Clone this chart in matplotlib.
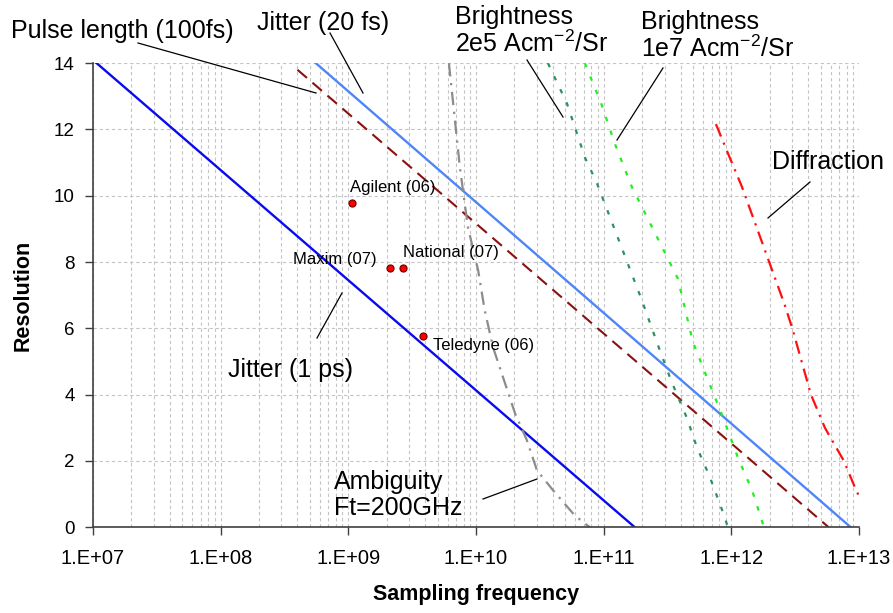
import numpy as np
import matplotlib.pyplot as plt
from matplotlib.ticker import LogLocator, FixedLocator, NullFormatter

plt.rcParams['font.family'] = ['Liberation Sans', 'DejaVu Sans']
plt.rcParams['mathtext.fontset'] = 'custom'
plt.rcParams['mathtext.rm'] = 'Liberation Sans'
plt.rcParams['mathtext.default'] = 'regular'

# --- data ---
jitter_1ps_f = [1.07e7, 1.75e11]
jitter_1ps_bits = [14, 0]

jitter_20fs_f = [5.57e8, 8.6e12]
jitter_20fs_bits = [14, 0]

pulse_f = [4.0e8, 5.77e12]
pulse_bits = [13.8, 0]

ambig_f = [6.14e9, 7.48e9, 8.65e9, 1.04e10, 1.17e10, 1.36e10, 2.02e10,
           2.50e10, 3.00e10, 4.00e10, 5.74e10, 6.87e10, 7.80e10]
ambig_bits = [14, 10.86, 9.05, 7.75, 6.55, 5.43, 3.44, 2.63, 1.72, 1.12,
              0.42, 0.15, 0]

bright_2e5_f = [3.66e10, 5.15e10, 5.95e10, 7.12e10, 8.85e10, 1.99e11,
                2.61e11, 3.36e11, 4.49e11, 5.37e11, 6.79e11, 8.59e11, 9.40e11]
bright_2e5_bits = [14, 12.79, 12.07, 11.16, 10.38, 6.85, 5.58, 4.44, 3.29,
                   2.41, 1.51, 0.45, 0]

bright_1e7_f = [7.12e10, 9.68e10, 1.22e11, 1.66e11, 3.81e11, 5.0e11,
                7.17e11, 8.59e11, 1.13e12, 1.45e12, 1.80e12]
bright_1e7_bits = [14, 12.73, 11.58, 10.27, 7.5, 5.58, 4.07, 3.32, 2.08,
                   1.12, 0]

diffr_f = [7.57e11, 9.40e11, 1.21e12, 2.62e12, 3.0e12, 4.2e12, 5.4e12,
           7.6e12, 9.61e12, 1.0e13]
diffr_bits = [12.16, 11.28, 10.27, 6.70, 6.0, 4.0, 3.0, 2.0, 1.06, 0.95]

adc_names = ['Agilent (06)', 'Maxim (07)', 'National (07)', 'Teledyne (06)']
adc_f = [1.07e9, 2.12e9, 2.68e9, 3.84e9]
adc_bits = [9.78, 7.82, 7.82, 5.76]

x_ticks = [1e7, 1e8, 1e9, 1e10, 1e11, 1e12, 1e13]
x_ticklabels = ['1.E+07', '1.E+08', '1.E+09', '1.E+10', '1.E+11', '1.E+12', '1.E+13']
y_ticks = [0, 2, 4, 6, 8, 10, 12, 14]

fig = plt.figure(figsize=(8.93, 6.13), dpi=100)
ax = fig.add_axes([0.104, 0.140, 0.858, 0.757])

ax.plot(jitter_1ps_f, jitter_1ps_bits, color='#0a0aee', lw=1.7)
ax.plot(jitter_20fs_f, jitter_20fs_bits, color='#4f86f7', lw=1.7)
ax.plot(pulse_f, pulse_bits, color='#8b1010', lw=1.5, dashes=(6, 3.5))
ax.plot(ambig_f, ambig_bits, color='#8c8c8c', lw=1.6, dashes=(6, 3, 1, 3))
ax.plot(bright_2e5_f, bright_2e5_bits, color='#2e9060', lw=1.6, dashes=(2, 4.5))
ax.plot(bright_1e7_f, bright_1e7_bits, color='#22ee22', lw=1.6, dashes=(2, 4.5))
ax.plot(diffr_f, diffr_bits, color='#ff1010', lw=1.6, dashes=(6, 3, 1, 3))

ax.scatter(adc_f, adc_bits, s=26, color='#ff0000', edgecolors='#600000',
           linewidths=0.8, zorder=5)
offsets = [(-1.5, 11, 'left'), (-9.5, 6, 'right'), (0, 11, 'left'), (7, -6.5, 'left')]
for name, f, b, (dx, dy, ha) in zip(adc_names, adc_f, adc_bits, offsets):
    ax.annotate(name, (f, b), xytext=(dx, dy), textcoords='offset points',
                ha=ha, va='center', fontsize=12)

ax.set_xscale('log')
ax.set_xlim(1e7, 1e13)
ax.set_ylim(0, 14)
ax.xaxis.set_major_locator(FixedLocator(x_ticks))
ax.set_xticklabels(x_ticklabels, fontsize=14.5)
ax.xaxis.set_minor_locator(LogLocator(base=10, subs=np.arange(2, 10)))
ax.xaxis.set_minor_formatter(NullFormatter())
ax.set_yticks(y_ticks)
ax.tick_params(axis='y', labelsize=13.5, length=6, width=1, color='#404040', pad=7)
ax.tick_params(axis='x', which='major', length=6, width=1, color='#404040', pad=9.5)
ax.tick_params(axis='x', which='minor', length=0)

ax.grid(True, which='both', axis='x', color='#c4c4c4', ls=(0, (3, 2.5)), lw=0.8)
ax.grid(True, which='major', axis='y', color='#c4c4c4', ls=(0, (3, 2.5)), lw=0.8)
ax.set_axisbelow(True)
for s in ['top', 'right']:
    ax.spines[s].set_visible(False)
for s in ['left', 'bottom']:
    ax.spines[s].set_color('#404040')
    ax.spines[s].set_linewidth(1.2)

ax.set_xlabel('Sampling frequency', fontsize=15.5, fontweight='bold')
ax.xaxis.set_label_coords(0.5, -0.123)
ax.set_ylabel('Resolution', fontsize=15.5, fontweight='bold')
ax.yaxis.set_label_coords(-0.077, 0.5)

# annotations with leader lines, placed in figure pixels
def px(x, y):
    return (x / 893.0, (613 - y) / 613.0)

def note(text, tx, ty, x0, y0, x1, y1):
    fig.text(*px(tx, ty), text, fontsize=18, ha='left', va='center', linespacing=1.1)
    p0 = px(x0, y0)
    p1 = px(x1, y1)
    fig.add_artist(plt.Line2D([p0[0], p1[0]], [p0[1], p1[1]],
                              color='black', lw=0.9, transform=fig.transFigure))

note('Pulse length (100fs)', 11, 31, 138, 43, 316, 93)
note('Jitter (20 fs)', 257, 23, 330, 33, 363, 93)
note('Brightness\n2e5 Acm$^{-2}$/Sr', 455, 31, 527, 60, 563, 117)
note('Brightness\n1e7 Acm$^{-2}$/Sr', 641, 36, 663, 68, 617, 140)
note('Diffraction', 772, 162, 810, 182, 768, 218)
note('Jitter (1 ps)', 228, 370, 317, 338, 342, 293)
note('Ambiguity\nFt=200GHz', 334, 495, 483, 499, 537, 479)

fig.savefig('out.png', dpi=100)
